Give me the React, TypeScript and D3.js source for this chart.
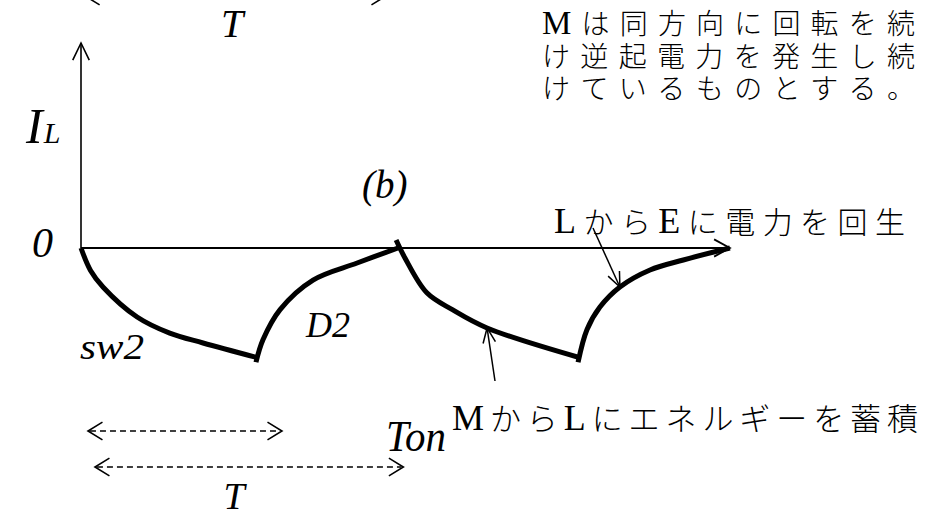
import React from "react";
import * as d3 from "d3";

const W = 931;
const H = 517;

// Inductor current I_L over two chopper periods.
// t is in units of the switching period T, current in units of the peak |I_L|.
const chargeA: [number, number][] = [
  [0, 0], [0.03, -0.2], [0.07, -0.35], [0.177, -0.616], [0.28, -0.76], [0.385, -0.848], [0.558, -0.98],
];
const regenA: [number, number][] = [
  [0.552, -1.02], [0.574, -0.82], [0.628, -0.55], [0.732, -0.286], [0.871, -0.134], [1.0, 0],
];
const chargeB: [number, number][] = [
  [0.994, 0.071], [1.022, -0.089], [1.091, -0.4], [1.173, -0.553], [1.281, -0.714], [1.574, -0.98],
];
const regenB: [number, number][] = [
  [1.568, -1.02], [1.596, -0.73], [1.637, -0.527], [1.7, -0.348], [1.795, -0.196], [1.9, -0.107], [2.047, 0],
];

const segments = [chargeA, regenA, chargeB, regenB];

// time spans of the dimension arrows (T above, Ton and T below)
const spanTopT: [number, number] = [0.013, 0.962];
const spanTon: [number, number] = [0.022, 0.634];
const spanT: [number, number] = [0.044, 1.017];

const xAxisEnd = 2.047;

// points on the curves that the callouts refer to
const calloutCharge: [number, number] = [1.281, -0.714];
const calloutRegen: [number, number] = [1.7, -0.348];

const noteLines = ["Mは同方向に回転を続", "け逆起電力を発生し続", "けているものとする。"];
const regenNote = "LからEに電力を回生";
const chargeNote = "MからLにエネルギーを蓄積";

const serif = "'Liberation Serif', 'DejaVu Serif', serif";
const cjk = "'Noto Sans CJK JP', 'Noto Sans CJK SC', sans-serif";

function chevron(tx: number, ty: number, angle: number, len = 17, spread = 0.52) {
  const a1 = angle + Math.PI - spread;
  const a2 = angle + Math.PI + spread;
  return `M${tx + len * Math.cos(a1)},${ty + len * Math.sin(a1)}L${tx},${ty}L${tx + len * Math.cos(a2)},${ty + len * Math.sin(a2)}`;
}

// One line of Japanese text stretched over a fixed width, Latin letters in a serif face.
function SpacedLine(props: { text: string; x: number; width: number; y: number; size: number; latinSize: number }) {
  const runs = props.text.match(/[A-Za-z]+|[^A-Za-z]+/g) ?? [];
  return (
    <text
      x={props.x}
      y={props.y}
      textLength={props.width}
      lengthAdjust="spacing"
      fill="#000"
      fontFamily={cjk}
      fontSize={props.size}
      fontWeight={300}
    >
      {runs.map((r, i) =>
        /[A-Za-z]/.test(r) ? (
          <tspan key={i} fontFamily={serif} fontSize={props.latinSize}>{r}</tspan>
        ) : (
          <tspan key={i}>{r}</tspan>
        )
      )}
    </text>
  );
}

export default function App() {
  const x = d3.scaleLinear().domain([0, 1]).range([81, 398]);
  const y = d3.scaleLinear().domain([0, -1]).range([248, 360]);

  const line = d3
    .line<[number, number]>()
    .x((d) => x(d[0]))
    .y((d) => y(d[1]))
    .curve(d3.curveCatmullRom.alpha(0.5));

  const x0 = x(0);
  const y0 = y(0);
  const xEnd = x(xAxisEnd);

  const dimArrow = (span: [number, number], yy: number, key: string) => {
    const a = x(span[0]);
    const b = x(span[1]);
    return (
      <g key={key} stroke="#000" fill="none" strokeWidth={1.6}>
        <line x1={a + 2} y1={yy} x2={b - 2} y2={yy} strokeDasharray="6 4" />
        <path d={chevron(a, yy, Math.PI, 17, 0.55)} />
        <path d={chevron(b, yy, 0, 17, 0.55)} />
      </g>
    );
  };

  const callout = (from: [number, number], to: [number, number], key: string) => {
    const ang = Math.atan2(to[1] - from[1], to[0] - from[0]);
    return (
      <g key={key} stroke="#000" fill="none" strokeWidth={1.5}>
        <line x1={from[0]} y1={from[1]} x2={to[0]} y2={to[1]} />
        <path d={chevron(to[0], to[1], ang, 16, 0.4)} />
      </g>
    );
  };

  const cc: [number, number] = [x(calloutCharge[0]), y(calloutCharge[1])];
  const cr: [number, number] = [x(calloutRegen[0]), y(calloutRegen[1])];

  return (
    <svg width={W} height={H} viewBox={`0 0 ${W} ${H}`} style={{ position: "absolute", left: 0, top: 0, background: "#fff" }}>
      <rect width={W} height={H} fill="#fff" />

      {/* axes */}
      <g stroke="#000" fill="none" strokeWidth={2}>
        <line x1={x0} y1={y0} x2={x0} y2={43} strokeWidth={1.6} />
        <path d={chevron(x0, 43, -Math.PI / 2, 19, 0.45)} strokeWidth={1.6} />
        <line x1={x0} y1={y0} x2={xEnd} y2={y0} />
        <path d={chevron(xEnd, y0, 0, 18, 0.5)} strokeWidth={1.8} />
      </g>

      {/* current waveform */}
      {segments.map((s, i) => (
        <path key={i} d={line(s) ?? ""} fill="none" stroke="#000" strokeWidth={5} strokeLinecap="butt" />
      ))}

      {/* dimension arrows */}
      {dimArrow(spanTopT, -4, "top")}
      {dimArrow(spanTon, 431, "ton")}
      {dimArrow(spanT, 467, "t")}

      {/* callouts */}
      {callout([495, 381], cc, "c1")}
      {callout([593, 228], cr, "c2")}

      {/* labels */}
      <g fontFamily={serif} fontStyle="italic" fill="#000">
        <text x={232} y={37} fontSize={40} textAnchor="middle">T</text>
        <text x={26} y={143} fontSize={50}>I<tspan fontSize={30} dx={1}>L</tspan></text>
        <text x={32} y={257} fontSize={42}>0</text>
        <text x={362} y={198} fontSize={39}>(b)</text>
        <text x={80} y={359} fontSize={35} textLength={64} lengthAdjust="spacingAndGlyphs">sw2</text>
        <text x={306} y={337} fontSize={36}>D2</text>
        <text x={386} y={451} fontSize={44} textLength={60} lengthAdjust="spacingAndGlyphs">Ton</text>
        <text x={234} y={509} fontSize={38} textAnchor="middle">T</text>
      </g>

      {noteLines.map((t, i) => (
        <SpacedLine key={i} text={t} x={542} width={373} y={34 + i * 32.5} size={28} latinSize={33} />
      ))}
      <SpacedLine text={regenNote} x={554} width={351} y={233} size={30} latinSize={36} />
      <SpacedLine text={chargeNote} x={452} width={466} y={430} size={31} latinSize={36} />
    </svg>
  );
}
